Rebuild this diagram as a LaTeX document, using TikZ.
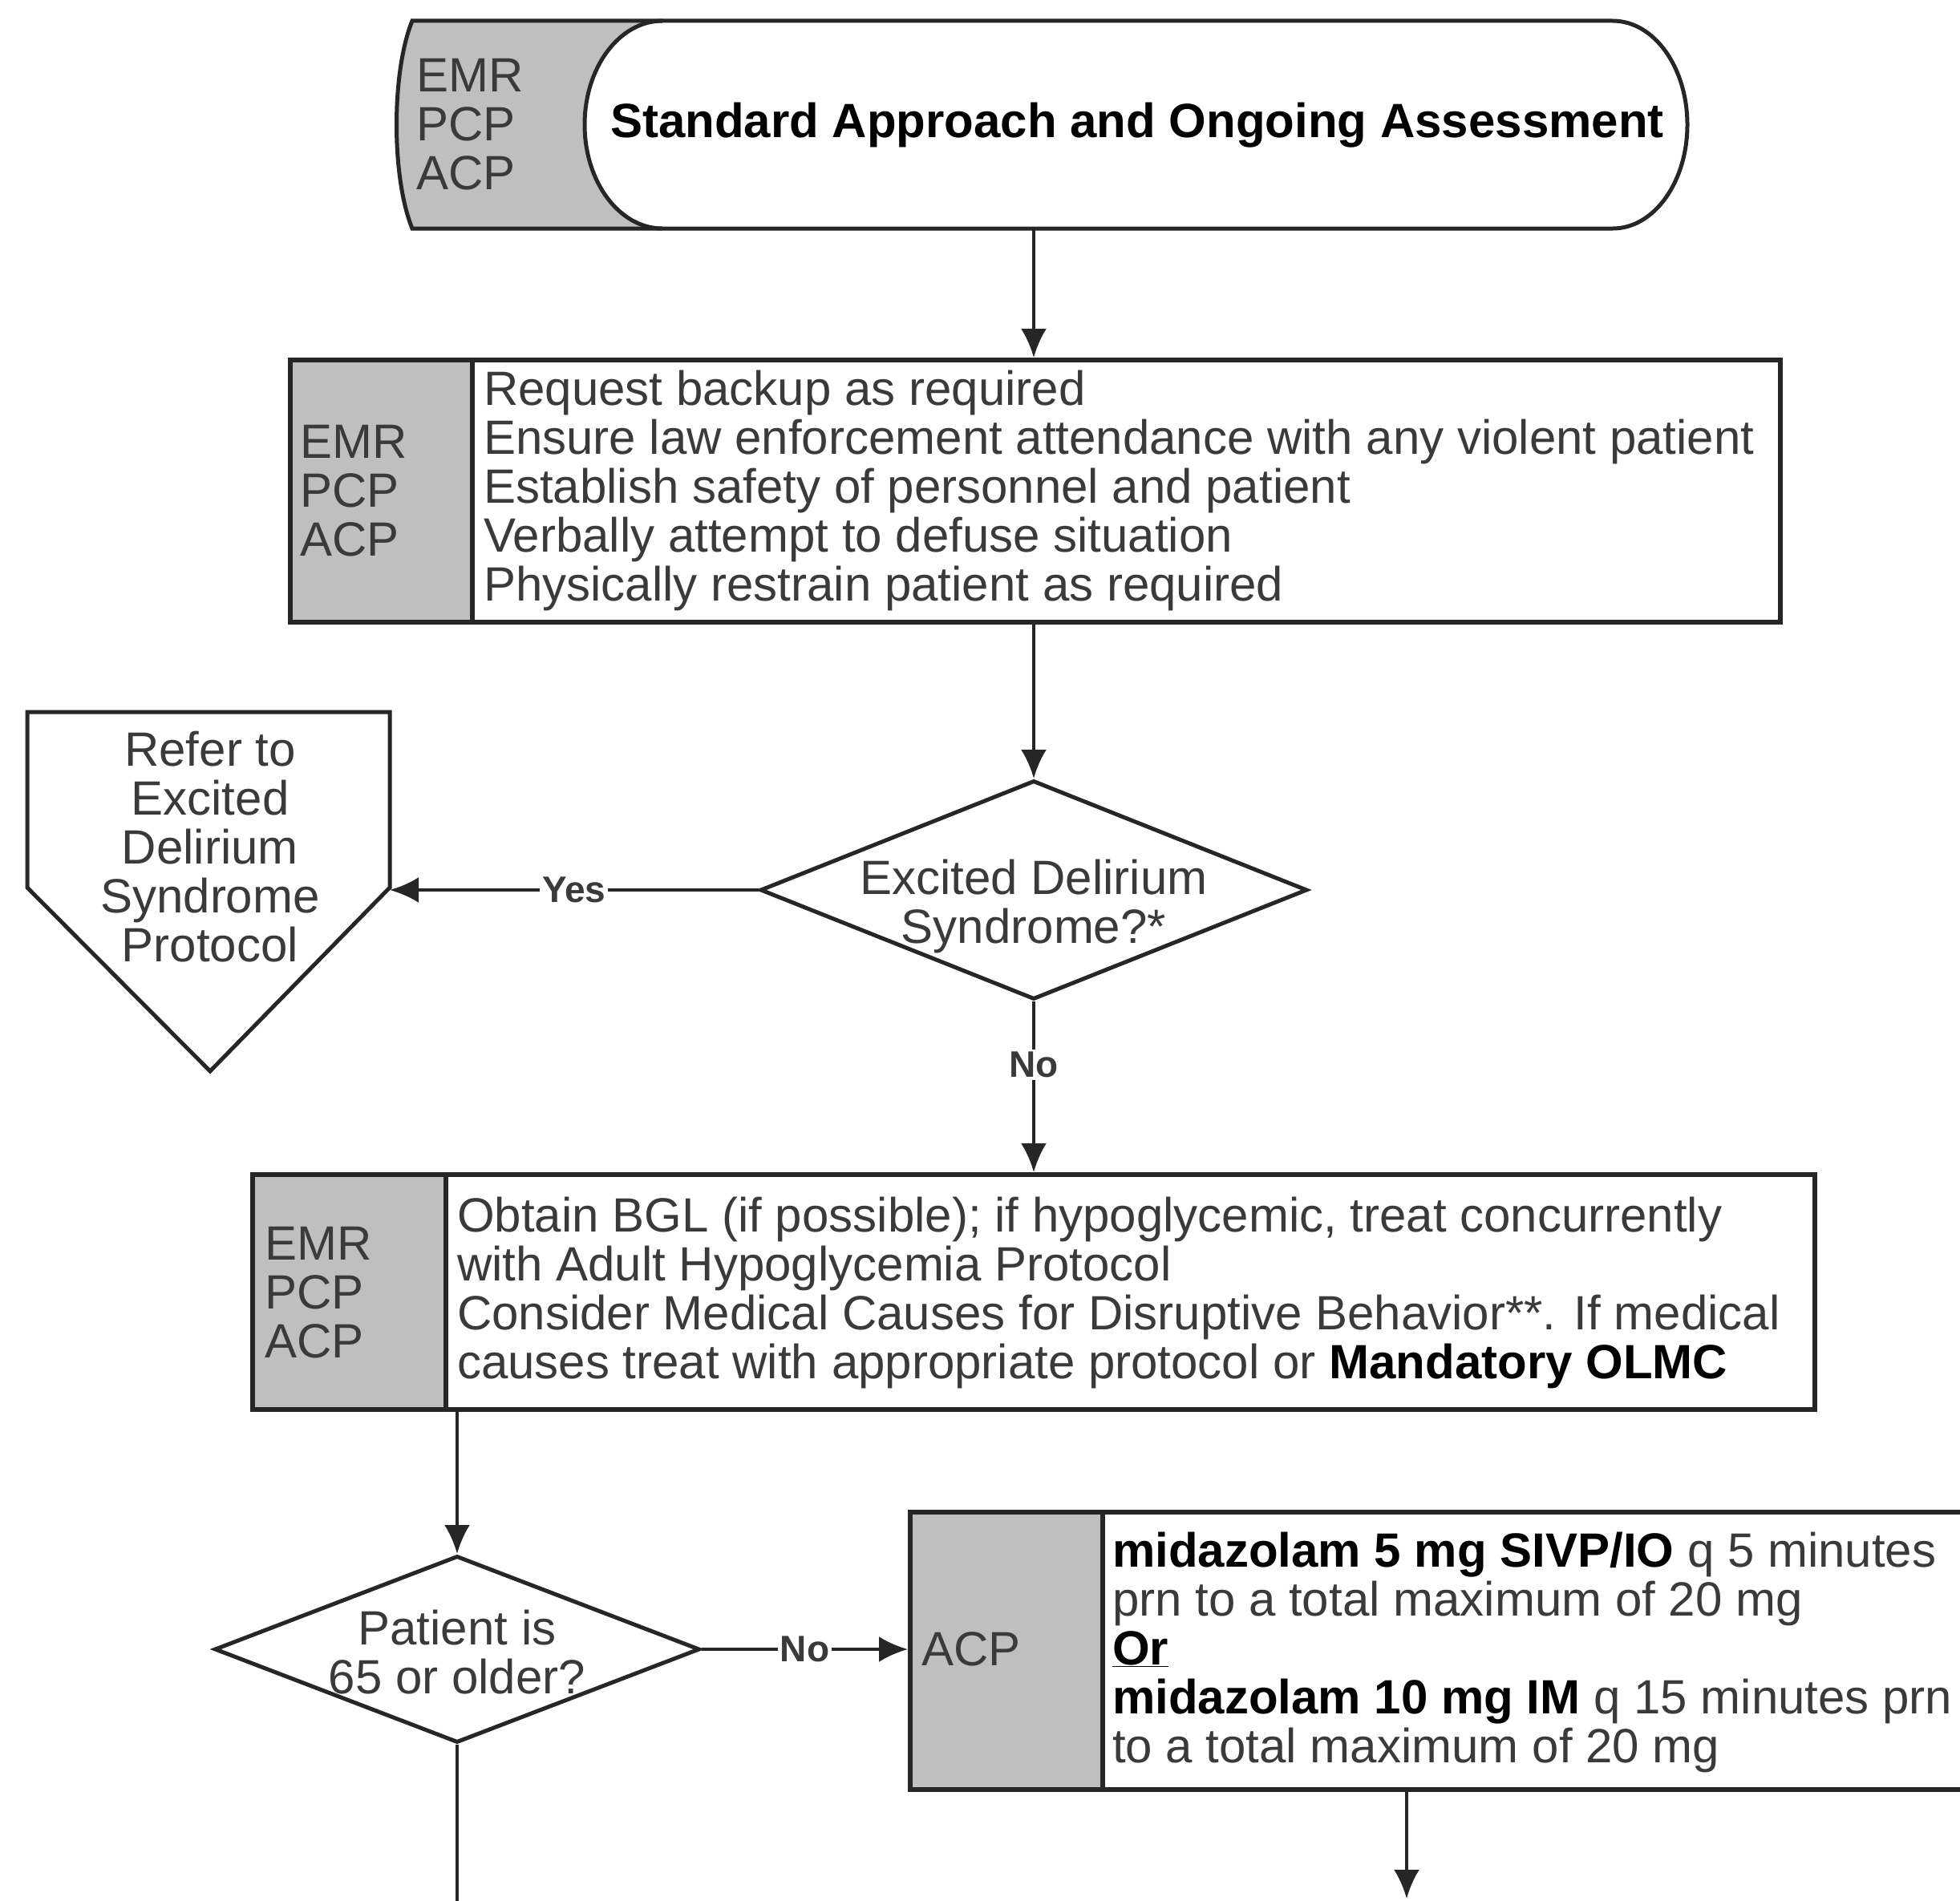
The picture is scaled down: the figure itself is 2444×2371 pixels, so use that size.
\documentclass[tikz,border=0pt]{standalone}
\usepackage{fontspec}
\setmainfont{Liberation Sans}
\usetikzlibrary{shapes.geometric,arrows.meta}
\definecolor{sidegray}{HTML}{BFBFBF}
\definecolor{txtgray}{HTML}{3A3A3A}
\definecolor{linegray}{HTML}{262626}
\newcommand\boldblk[1]{\textcolor{black}{\textbf{#1}}}
\tikzset{
  frame/.style={draw=linegray, line width=6pt, fill=white, inner sep=0pt},
  sidebar/.style={draw=linegray, line width=6pt, fill=sidegray, inner sep=0pt, anchor=north west},
  body/.style={font=\fontsize{60}{61}\selectfont, text=txtgray, align=left, inner sep=0pt, anchor=west},
  ctext/.style={font=\fontsize{60}{61}\selectfont, text=txtgray, align=center, inner sep=0pt},
  dia/.style={diamond, draw=linegray, line width=5pt, fill=white, inner sep=0pt},
  shapeline/.style={draw=linegray, line width=5pt},
  arr/.style={draw=linegray, line width=4pt, -{Latex[length=36pt,width=32pt]}},
  plain/.style={draw=linegray, line width=4pt},
  lbl/.style={fill=white, font=\fontsize{46}{48}\selectfont\bfseries, text=txtgray, inner sep=3pt},
  ghost/.style={inner sep=0pt, outer sep=0pt}
}
\begin{document}
\begin{tikzpicture}[x=1pt,y=-1pt]
\useasboundingbox (0,0) rectangle (2444,2371);
\clip (0,0) rectangle (2444,2371);
\fill[white] (0,0) rectangle (2444,2371);

% ---------- top terminal ----------
\node[ghost, minimum width=1608pt, minimum height=259pt] (term) at (1300,155.5) {};
\fill[sidegray] (514,26) -- (826,26) .. controls (772.4,26) and (729,84) .. (729,155.5)
  .. controls (729,227) and (772.4,285) .. (826,285) -- (514,285)
  .. controls (488,221) and (488,90) .. (514,26) -- cycle;
\draw[shapeline] (514,26) -- (2011,26) .. controls (2062.4,26) and (2104,84) .. (2104,155.5)
  .. controls (2104,227) and (2062.4,285) .. (2011,285) -- (514,285)
  .. controls (488,221) and (488,90) .. (514,26) -- cycle;
\draw[shapeline] (826,26) .. controls (772.4,26) and (729,84) .. (729,155.5)
  .. controls (729,227) and (772.4,285) .. (826,285);
\node[body] (termside) at (519,155) {EMR\\PCP\\ACP};
\node[ctext] (title) at (1418,156) {\boldblk{Standard Approach and Ongoing Assessment}};

% ---------- box 2 ----------
\node[frame, minimum width=1858pt, minimum height=327pt] (box2) at (1291,612.5) {};
\node[sidebar, minimum width=227pt, minimum height=327pt] (side2) at (box2.north west) {};
\node[body] (side2t) at (374,612) {EMR\\PCP\\ACP};
\node[body] (box2t) at (603,612) {Request backup as required\\
Ensure law enforcement attendance with any violent patient\\
Establish safety of personnel and patient\\
Verbally attempt to defuse situation\\
Physically restrain patient as required};

% ---------- diamond 1 ----------
\node[dia, minimum width=682pt, minimum height=273pt] (d1) at (1289,1110) {};
\node[ctext] (d1t) at (1289,1130) {Excited Delirium\\Syndrome?*};

% ---------- off-page connector ----------
\node[ghost, minimum width=452pt, minimum height=219pt] (ref) at (260,997.5) {};
\coordinate (reftip) at (262,1336);
\draw[shapeline, fill=white] (ref.north west) -- (ref.north east) -- (ref.south east) -- (reftip) -- (ref.south west) -- cycle;
\node[ctext] (reft) at (262,1056) {Refer to\\Excited\\Delirium\\Syndrome\\Protocol};

% ---------- box 3 ----------
\node[frame, minimum width=1948pt, minimum height=293pt] (box3) at (1289,1611.5) {};
\node[sidebar, minimum width=241pt, minimum height=293pt] (side3) at (box3.north west) {};
\node[body] (side3t) at (330,1612) {EMR\\PCP\\ACP};
\node[body] (box3t) at (570,1612) {Obtain BGL (if possible); if hypoglycemic, treat concurrently\\
with Adult Hypoglycemia Protocol\\
Consider Medical Causes for Disruptive Behavior**. If medical\\
causes treat with appropriate protocol or \boldblk{Mandatory OLMC}};

% ---------- diamond 2 ----------
\node[dia, minimum width=605pt, minimum height=233pt] (d2) at (570,2057) {};
\node[ctext] (d2t) at (570,2061) {Patient is\\65 or older?};

% ---------- box 4 ----------
\node[frame, minimum width=1365pt, minimum height=346pt] (box4) at (1817.5,2059) {};
\node[sidebar, minimum width=240pt, minimum height=346pt] (side4) at (box4.north west) {};
\node[body] (side4t) at (1149,2057) {ACP};
\node[body] (box4t) at (1387,2061) {\boldblk{midazolam 5 mg SIVP/IO} q 5 minutes\\
prn to a total maximum of 20 mg\\
\boldblk{\underline{Or}}\\
\boldblk{midazolam 10 mg IM} q 15 minutes prn\\
to a total maximum of 20 mg};

% ---------- connectors ----------
\coordinate (out1) at (1754,2368);
\coordinate (out2) at (570,2390);
\draw[arr] (term.south -| d1) -- (d1 |- box2.north);
\draw[arr] (box2.south -| d1) -- (d1.north);
\draw[arr] (d1.west) -- (d1.west -| ref.east) node[lbl, pos=0.5] {Yes};
\draw[arr] (d1.south) -- (d1 |- box3.north) node[lbl, pos=0.37] {No};
\draw[arr] (box3.south -| d2) -- (d2.north);
\draw[arr] (d2.east) -- (d2.east -| box4.west) node[lbl, pos=0.5] {No};
\draw[arr] (box4.south -| out1) -- (out1);
\draw[plain] (d2.south) -- (out2);
\end{tikzpicture}
\end{document}
